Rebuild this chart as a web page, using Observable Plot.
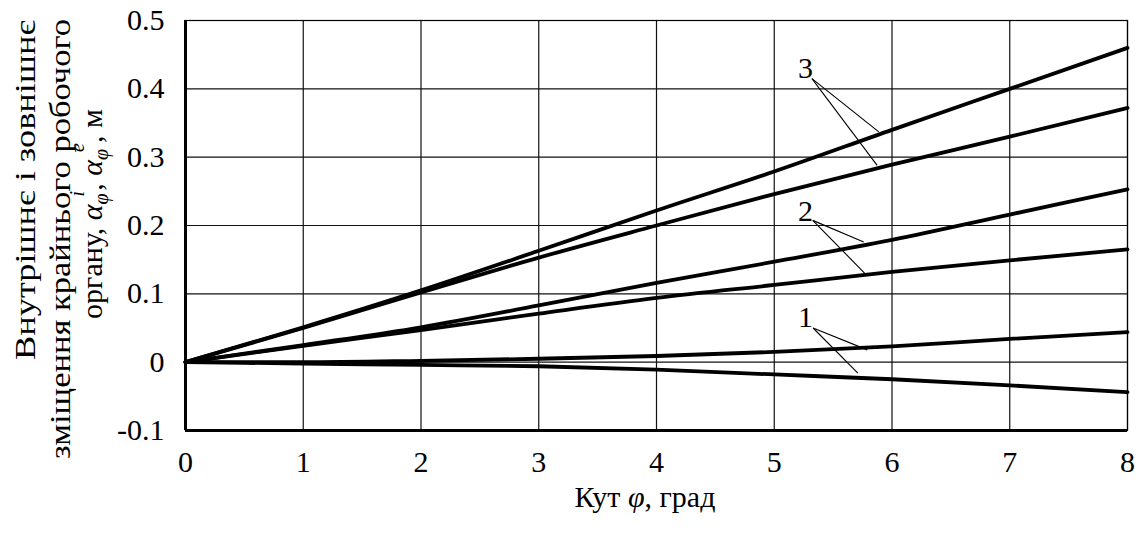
<!DOCTYPE html>
<html><head><meta charset="utf-8">
<script src="https://cdn.jsdelivr.net/npm/d3@7"></script>
<script src="https://cdn.jsdelivr.net/npm/@observablehq/plot@0.6"></script>
<style>body{margin:0;background:#fff}</style>
</head><body><div id="chart"></div>
<script>
const FONT = '"Liberation Serif", "Times New Roman", serif';

// Angle φ, degrees
const angles = [0, 1, 2, 3, 4, 5, 6, 7, 8];
// Curve pairs (upper = external α^e, lower = internal α^i), metres
const curve3Upper = [0, 0.051, 0.105, 0.163, 0.222, 0.279, 0.340, 0.400, 0.460];
const curve3Lower = [0, 0.050, 0.102, 0.153, 0.200, 0.246, 0.289, 0.330, 0.372];
const curve2Upper = [0, 0.025, 0.051, 0.083, 0.116, 0.147, 0.179, 0.216, 0.253];
const curve2Lower = [0, 0.024, 0.047, 0.071, 0.094, 0.113, 0.132, 0.149, 0.165];
const curve1Upper = [0, 0.000, 0.002, 0.005, 0.009, 0.015, 0.023, 0.034, 0.044];
const curve1Lower = [0, -0.002, -0.004, -0.006, -0.011, -0.018, -0.025, -0.034, -0.044];

const xTicks = [0, 1, 2, 3, 4, 5, 6, 7, 8];
const yTicks = [-0.1, 0, 0.1, 0.2, 0.3, 0.4, 0.5];

// Curve number labels and their leader lines (data units)
const labelText = ["3", "2", "1"];
const labelX = [5.265, 5.265, 5.265];
const labelY = [0.430, 0.220, 0.066];
const leaderX1 = [5.32, 5.32, 5.327, 5.327, 5.33, 5.33];
const leaderY1 = [0.415, 0.415, 0.2075, 0.2075, 0.050, 0.050];
const leaderX2 = [5.888, 5.874, 5.76, 5.775, 5.79, 5.71];
const leaderY2 = [0.337, 0.288, 0.1757, 0.129, 0.018, -0.016];

const yTitle1 = "Внутрішнє і зовнішнє";
const yTitle2 = "зміщення крайнього робочого";
const yTitle3 = "органу, ";
const xTitleA = "Кут ", xTitlePhi = "φ", xTitleB = ", град";

const seriesList = [
  ["3e", curve3Upper], ["3i", curve3Lower],
  ["2e", curve2Upper], ["2i", curve2Lower],
  ["1e", curve1Upper], ["1i", curve1Lower]
];
const rows = seriesList.flatMap(([s, vals]) => angles.map((x, i) => ({s, x, y: vals[i]})));
const labels = labelText.map((t, i) => ({t, x: labelX[i], y: labelY[i]}));
const leaders = leaderX1.map((x1, i) => ({x1, y1: leaderY1[i], x2: leaderX2[i], y2: leaderY2[i]}));

const fmt = d => (Math.abs(d) < 1e-9 ? "0" : String(+d.toFixed(1)));

const chart = Plot.plot({
  width: 1141, height: 535,
  marginLeft: 185, marginRight: 14, marginTop: 20, marginBottom: 105,
  style: {fontFamily: FONT, fontSize: "30px", color: "black", background: "white"},
  x: {domain: [0, 8]},
  y: {domain: [-0.1, 0.5]},
  marks: [
    Plot.gridX(xTicks, {stroke: "#111", strokeOpacity: 1, strokeWidth: 1.2}),
    Plot.gridY(yTicks, {stroke: "#111", strokeOpacity: 1, strokeWidth: 1.2}),
    Plot.frame({stroke: "black", strokeWidth: 1.2}),
    Plot.ruleX([0], {stroke: "black", strokeWidth: 3}),
    Plot.ruleY([-0.1], {stroke: "black", strokeWidth: 3}),
    Plot.line(rows, {x: "x", y: "y", z: "s", stroke: "black", strokeWidth: 3.8, curve: "monotone-x"}),
    Plot.link(leaders, {x1: "x1", y1: "y1", x2: "x2", y2: "y2", stroke: "black", strokeWidth: 1.1}),
    Plot.text(labels, {x: "x", y: "y", text: "t", fontSize: 30, fill: "black", textAnchor: "middle", lineAnchor: "middle"}),
    Plot.axisX(xTicks, {tickSize: 0, tickPadding: 20, fontSize: 30, label: null, tickFormat: d => String(d)}),
    Plot.axisY(yTicks, {tickSize: 0, tickPadding: 21, fontSize: 30, label: null, tickFormat: fmt})
  ]
});
document.getElementById("chart").appendChild(chart);

const svg = d3.select(chart);
const g = svg.append("g").attr("font-family", FONT).attr("font-size", 30).attr("fill", "black");

g.append("text").attr("transform", "translate(35,190) rotate(-90)").attr("text-anchor", "middle")
  .attr("textLength", 340).attr("lengthAdjust", "spacingAndGlyphs").text(yTitle1);
g.append("text").attr("transform", "translate(70,239) rotate(-90)").attr("text-anchor", "middle")
  .attr("textLength", 440).attr("lengthAdjust", "spacingAndGlyphs").text(yTitle2);
const t3 = g.append("text").attr("transform", "translate(102,214) rotate(-90)").attr("text-anchor", "middle");
t3.append("tspan").text(yTitle3);
const addAlpha = (sup, last) => {
  t3.append("tspan").attr("font-style", "italic").text("α");
  t3.append("tspan").attr("font-style", "italic").attr("font-size", 20).attr("dy", 6).text("φ");
  t3.append("tspan").attr("font-style", "italic").attr("font-size", 20).attr("dy", -24).attr("dx", -3).text(sup);
  t3.append("tspan").attr("dy", 18).text(last);
};
addAlpha("i", ", ");
addAlpha("e", ", м");

const xt = g.append("text").attr("x", 645).attr("y", 507).attr("text-anchor", "middle");
xt.append("tspan").text(xTitleA);
xt.append("tspan").attr("font-style", "italic").text(xTitlePhi);
xt.append("tspan").text(xTitleB);
</script>
</body></html>
